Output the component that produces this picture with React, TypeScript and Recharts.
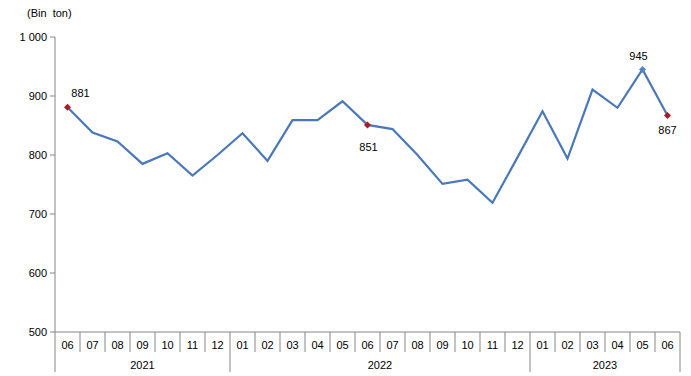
import { LineChart, Line, XAxis, YAxis, LabelList } from "recharts";

// Monthly series, 2021-06 .. 2023-06 (thousand tonnes)
const months = [
  "06", "07", "08", "09", "10", "11", "12",
  "01", "02", "03", "04", "05", "06", "07", "08", "09", "10", "11", "12",
  "01", "02", "03", "04", "05", "06",
];
const values = [
  881, 838, 823, 785, 803, 765, 800,
  837, 790, 859, 859, 891, 851, 844, 800, 751, 758, 719, 796,
  874, 794, 911, 880, 945, 867,
];
const years = ["2021", "2022", "2023"];
const yearLengths = [7, 12, 6];
const yTicks = [500, 600, 700, 800, 900, 1000];

// points that carry a marker and a value label
const markRed = [0, 12, 24];
const markBlue = [23];
const labelOffsets: Record<number, [number, number]> = {
  0: [13, -14],
  12: [1, 22],
  23: [-4, -13],
  24: [0, 15],
};

const W = 691;
const H = 376;
const LEFT = 55;
const RIGHT = 11;
const TOP = 37;
const BOTTOM = 44;
const STEP = (W - LEFT - RIGHT) / months.length;
const GRID = "#868686";
const LINE = "#4a78b8";
const FONT = "'Liberation Sans', Arial, sans-serif";

const data = months.map((m, i) => ({ key: i, month: m, value: values[i] }));

const yearStarts: number[] = [];
yearLengths.reduce((acc, n) => {
  yearStarts.push(acc);
  return acc + n;
}, 0);

function MonthTick(props: any) {
  const { x, y, payload } = props;
  const i = payload.value as number;
  const left = x - STEP / 2;
  const yi = yearStarts.indexOf(i);
  const last = i === months.length - 1;
  return (
    <g>
      <line x1={left} x2={left} y1={y} y2={y + (yi >= 0 ? 40 : 20)} stroke={GRID} />
      {last && <line x1={left + STEP} x2={left + STEP} y1={y} y2={y + 40} stroke={GRID} />}
      <text x={x} y={y + 13} textAnchor="middle" dominantBaseline="central" fontSize={11} fill="#000" fontFamily={FONT}>
        {months[i]}
      </text>
      {yi >= 0 && (
        <text
          x={left + (yearLengths[yi] * STEP) / 2}
          y={y + 33}
          textAnchor="middle"
          dominantBaseline="central"
          fontSize={11}
          fill="#000"
          fontFamily={FONT}
        >
          {years[yi]}
        </text>
      )}
    </g>
  );
}

function Marker(props: any) {
  const { cx, cy, index } = props;
  const red = markRed.includes(index);
  const blue = markBlue.includes(index);
  if (!red && !blue) return <g key={index} />;
  const r = 3.5;
  return (
    <path
      key={index}
      d={`M${cx},${cy - r}L${cx + r},${cy}L${cx},${cy + r}L${cx - r},${cy}Z`}
      fill={red ? "#a81c24" : "#4f86c6"}
    />
  );
}

function ValueLabel(props: any) {
  const { x, y, index, value } = props;
  const off = labelOffsets[index];
  if (!off) return null;
  return (
    <text x={x + off[0]} y={y + off[1]} textAnchor="middle" dominantBaseline="central" fontSize={11} fill="#000" fontFamily={FONT}>
      {value}
    </text>
  );
}

export default function App() {
  return (
    <div style={{ position: "absolute", left: 0, top: 0, width: W, height: H, background: "#fff", fontFamily: FONT }}>
      <div style={{ position: "absolute", left: 27, top: 7, fontSize: 11, color: "#000", whiteSpace: "pre" }}>
        (Bin  ton)
      </div>
      <LineChart width={W} height={H} data={data} margin={{ top: TOP, right: RIGHT, left: 0, bottom: 0 }}>
        <XAxis
          dataKey="key"
          type="category"
          interval={0}
          height={BOTTOM}
          padding={{ left: STEP / 2, right: STEP / 2 }}
          axisLine={{ stroke: GRID }}
          tickLine={false}
          tickSize={0}
          tickMargin={0}
          tick={<MonthTick />}
        />
        <YAxis
          width={LEFT}
          domain={[500, 1000]}
          ticks={yTicks}
          interval={0}
          axisLine={{ stroke: GRID }}
          tickLine={{ stroke: GRID }}
          tickSize={5}
          tickMargin={3}
          tick={{ fontSize: 11, fill: "#000", fontFamily: FONT }}
          tickFormatter={(v: number) => (v >= 1000 ? "1 000" : String(v))}
        />
        <Line
          type="linear"
          dataKey="value"
          stroke={LINE}
          strokeWidth={2.2}
          dot={<Marker />}
          activeDot={false}
          isAnimationActive={false}
        >
          <LabelList dataKey="value" content={<ValueLabel />} />
        </Line>
      </LineChart>
    </div>
  );
}
